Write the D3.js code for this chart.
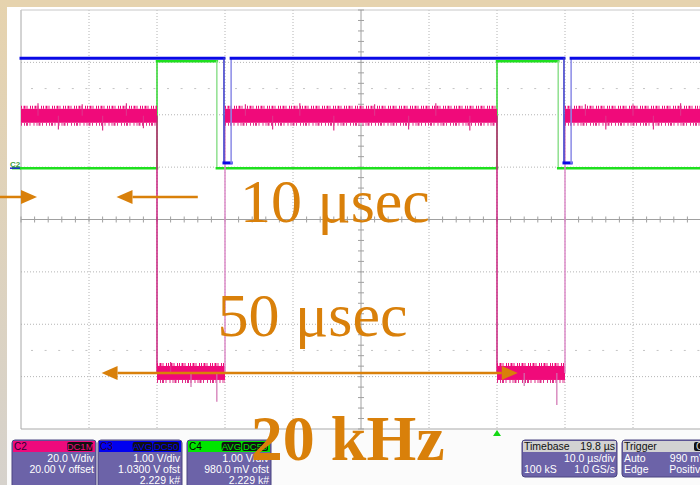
<!DOCTYPE html>
<html><head><meta charset="utf-8">
<script src="https://cdn.jsdelivr.net/npm/d3@7/dist/d3.min.js"></script>
<style>html,body{margin:0;padding:0;background:#fff;overflow:hidden}svg{display:block}</style>
</head><body>
<svg id="c" width="700" height="485"></svg>
<script>
// ---- data (time in µs, level in screen divisions) ----
const timeTicks = [0,10,20,30,40,50,60,70,80,90,100];
const levelTicks = [-4,-3,-2,-1,0,1,2,3,4];
const greenT = [0,20,20,28.8,28.8,70,70,79,79,100];
const greenV = [0.98,0.98,3.02,3.02,0.98,0.98,3.02,3.02,0.98,0.98];
const blueT = [0,29.85,29.85,30.9,30.9,79.85,79.85,80.9,80.9,100];
const blueV = [3.08,3.08,1.08,1.08,3.08,3.08,1.08,1.08,3.08,3.08];
const pinkT = [0,20,20,30,30,70,70,80,80,100];
const pinkV = [1.98,1.98,-2.93,-2.93,1.98,1.98,-2.93,-2.93,1.98,1.98];
const pinkSpikeT = [2.5,5.5,9,12,15.5,18,33,37,41,46,52,57,61,66,83,86,90,93,97,22,25,28.8,74,78.8];
const pinkSpikeV = [2.22,1.72,2.2,1.7,2.22,1.74,2.2,1.72,2.22,1.7,2.2,1.72,2.22,1.7,2.2,1.72,2.2,1.72,2.22,-2.72,-3.2,-3.48,-3.18,-3.54];
const markerLevels = [2.5,-2.5];
const channels = [
  {name:"C2", badges:["DC1M"], rows:["20.0 V/div","20.00 V offset",""]},
  {name:"C3", badges:["AVG","DC50"], rows:["1.00 V/div","1.0300 V ofst","2.229 k#"]},
  {name:"C4", badges:["AVG","DC50"], rows:["1.00 V/div","980.0 mV ofst","2.229 k#"]}
];
const timebase = {head:["Timebase","19.8 µs"], rows:[["","10.0 µs/div"],["100 kS","1.0 GS/s"]]};
const trigger = {head:["Trigger","C4"], rows:[["Auto","990 mV"],["Edge","Positive"]]};
const notes = [
  {text:"10 μsec", t:32.2, v:-0.05, bold:false},
  {text:"50 μsec", t:28.9, v:-2.22, bold:false},
  {text:"20 kHz", t:33.8, v:-4.6, bold:true}
];

// ---- styles ----
const chColors = {C2:"#ee0a7c", C3:"#0000f0", C4:"#00e600"};
const orange = "#d9800a";
const svg = d3.select("#c");
const x = d3.scaleLinear().domain([0,100]).range([21,701]);
const y = d3.scaleLinear().domain([-4,4]).range([429,10]);

// backgrounds
svg.append("rect").attr("width",700).attr("height",485).attr("fill","#ffffff");
svg.append("rect").attr("x",0).attr("y",0).attr("width",700).attr("height",7).attr("fill","#e6d3ae");
const lg = svg.append("defs").append("linearGradient").attr("id","lg").attr("x1",0).attr("x2",0).attr("y1",0).attr("y2",1);
lg.append("stop").attr("offset","0").attr("stop-color","#e6d3ae");
lg.append("stop").attr("offset","1").attr("stop-color","#d6d2cc");
svg.append("rect").attr("x",0).attr("y",0).attr("width",7).attr("height",485).attr("fill","url(#lg)");
svg.append("rect").attr("x",7).attr("y",430).attr("width",693).attr("height",55).attr("fill","#fbfbfb");

// grid
const grid = svg.append("g");
grid.selectAll("line.v").data(timeTicks.filter(t=>t!==50 && t!==0)).join("line")
  .attr("x1",d=>x(d)).attr("x2",d=>x(d)).attr("y1",y(4)).attr("y2",y(-4))
  .attr("stroke","#b4b4b4").attr("stroke-dasharray","1,2");
grid.selectAll("line.h").data(levelTicks.filter(v=>v!==0 && Math.abs(v)!==4)).join("line")
  .attr("x1",x(0)).attr("x2",x(100)).attr("y1",d=>y(d)).attr("y2",d=>y(d))
  .attr("stroke","#b4b4b4").attr("stroke-dasharray","1,2");
grid.selectAll("line.m").data(markerLevels).join("line")
  .attr("x1",x(0)+10).attr("x2",x(100)).attr("y1",d=>y(d)).attr("y2",d=>y(d))
  .attr("stroke","#c4c4c4").attr("stroke-dasharray","2,11.6");
// borders
grid.append("line").attr("x1",x(0)).attr("x2",x(0)).attr("y1",y(4)).attr("y2",y(-4)).attr("stroke","#a8a8a8");
grid.append("line").attr("x1",x(0)).attr("x2",700).attr("y1",y(4)).attr("y2",y(4)).attr("stroke","#c8c8c8");
grid.append("line").attr("x1",x(0)).attr("x2",700).attr("y1",y(-4)).attr("y2",y(-4)).attr("stroke","#a8a8a8");
// center axes with minor ticks
grid.append("line").attr("x1",x(0)).attr("x2",x(100)).attr("y1",y(0)).attr("y2",y(0)).attr("stroke","#a0a0a0");
grid.append("line").attr("x1",x(50)).attr("x2",x(50)).attr("y1",y(4)).attr("y2",y(-4)).attr("stroke","#a0a0a0");
const minorT = d3.range(0,100.01,2);
grid.selectAll("line.tx").data(minorT).join("line")
  .attr("x1",d=>x(d)).attr("x2",d=>x(d)).attr("y1",y(0)-3).attr("y2",y(0)+3).attr("stroke","#a0a0a0");
const minorV = d3.range(-4,4.01,0.2);
grid.selectAll("line.ty").data(minorV).join("line")
  .attr("x1",x(50)-3).attr("x2",x(50)+3).attr("y1",d=>y(d)).attr("y2",d=>y(d)).attr("stroke","#a0a0a0");

// trace helper
function drawStep(T,V,hColor,hW,vColorFall,vColorRise,vW){
  const g = svg.append("g");
  for(let i=0;i<T.length-1;i++){
    const horiz = V[i]===V[i+1];
    g.append("line").attr("x1",x(T[i])).attr("x2",x(T[i+1])).attr("y1",y(V[i])).attr("y2",y(V[i+1]))
      .attr("stroke", horiz ? hColor : (V[i+1]<V[i] ? vColorFall : vColorRise))
      .attr("stroke-width", horiz ? hW : vW).attr("stroke-linecap","square");
  }
  return g;
}

// green C4
drawStep(greenT,greenV,"#1ee01e",2.5,"#8fe08f","#2ed62e",1.5);
svg.append("line").attr("x1",12).attr("x2",x(0)).attr("y1",y(greenV[0])).attr("y2",y(greenV[0])).attr("stroke","#1ee01e").attr("stroke-width",2.5);

// pink C2
const pg = svg.append("g");
for(let i=0;i<pinkT.length-1;i++){
  if(pinkV[i]===pinkV[i+1]){
    const x1=x(pinkT[i]), x2=x(pinkT[i+1]), yy=y(pinkV[i]);
    pg.append("rect").attr("x",x1).attr("y",yy-7).attr("width",x2-x1).attr("height",14).attr("fill","#f00a7a");
    pg.append("line").attr("x1",x1).attr("x2",x2).attr("y1",yy-8.5).attr("y2",yy-8.5)
      .attr("stroke","#f00a7a").attr("stroke-width",3).attr("stroke-dasharray","1,1.5,2,1,1,2.5,1,1");
    pg.append("line").attr("x1",x1).attr("x2",x2).attr("y1",yy+8.5).attr("y2",yy+8.5)
      .attr("stroke","#e0308a").attr("stroke-width",3).attr("stroke-dasharray","1,2,1,1,2,1.5,1,3");
  } else {
    const fall = pinkV[i+1]<pinkV[i];
    pg.append("line").attr("x1",x(pinkT[i])).attr("x2",x(pinkT[i+1])).attr("y1",y(pinkV[i])).attr("y2",y(pinkV[i+1]))
      .attr("stroke", fall ? "#c8207e" : "#dd8cc8").attr("stroke-width",1.5);
  }
}
pg.selectAll("line.sp").data(pinkSpikeT).join("line")
  .attr("x1",d=>x(d)).attr("x2",d=>x(d))
  .attr("y1",(d,i)=>y(pinkSpikeV[i]))
  .attr("y2",(d,i)=>y(pinkSpikeV[i] > 0 ? 1.98 : -2.93))
  .attr("stroke",(d,i)=> pinkSpikeV[i] < -3 ? "#d070b0" : "#e0308a").attr("stroke-width",1.2);

// blue C3
drawStep(blueT,blueV,"#0a0ae6",3,"#3535c8","#8a8ae6",1.5);

// left tags
svg.append("text").attr("x",10).attr("y",y(0.98)-1).attr("font-family","Liberation Sans, Arial").attr("font-size",8).attr("font-weight","bold").attr("fill","#3c9c3c").text("C2");
svg.append("line").attr("x1",10).attr("x2",20).attr("y1",y(0.98)).attr("y2",y(0.98)).attr("stroke","#2020d0").attr("stroke-width",1.5);

// trigger marker
svg.append("path").attr("d",`M${x(70)-4},${y(-4)+7}L${x(70)},${y(-4)+1}L${x(70)+4},${y(-4)+7}Z`).attr("fill","#14d814");

// panels
const font = "Liberation Sans, Arial, sans-serif";
function panelBox(px,pw,ph,headColor){
  const g = svg.append("g");
  g.append("rect").attr("x",px).attr("y",440).attr("width",pw).attr("height",ph).attr("rx",3)
    .attr("fill","#6c63a8").attr("stroke","#4a4580").attr("stroke-width",1);
  g.append("rect").attr("x",px+1).attr("y",441).attr("width",pw-2).attr("height",11).attr("fill",headColor);
  return g;
}
const chX = [12,98,187];
channels.forEach((c,i)=>{
  const px = chX[i], pw = 84;
  const g = panelBox(px,pw,60,chColors[c.name]);
  g.append("text").attr("x",px+2).attr("y",450).attr("font-family",font).attr("font-size",10)
    .attr("fill", c.name==="C4" ? "#000" : "#2a0030").text(c.name);
  let bx = px+pw-2;
  c.badges.slice().reverse().forEach(b=>{
    const w = b.length*6.2+2;
    bx -= w;
    g.append("rect").attr("x",bx).attr("y",442).attr("width",w-1).attr("height",9).attr("rx",2).attr("fill","#111");
    g.append("text").attr("x",bx+(w-1)/2).attr("y",450).attr("text-anchor","middle").attr("font-family",font)
      .attr("font-size",9.5).attr("fill",chColors[c.name]).text(b);
  });
  c.rows.forEach((r,j)=>{
    g.append("text").attr("x",px+pw-2).attr("y",462+11*j).attr("text-anchor","end").attr("font-family",font)
      .attr("font-size",10.5).attr("fill","#fff").text(r);
  });
});
function infoBox(px,pw,obj,badge){
  const g = panelBox(px,pw,37,"#d2d2d2");
  g.append("text").attr("x",px+2).attr("y",450).attr("font-family",font).attr("font-size",10.5).attr("fill","#111").text(obj.head[0]);
  if(badge){
    g.append("rect").attr("x",px+pw-14).attr("y",442).attr("width",14).attr("height",9).attr("rx",2).attr("fill","#111");
    g.append("text").attr("x",px+pw-12).attr("y",450).attr("font-family",font).attr("font-size",10).attr("fill","#ddd").text(obj.head[1]);
  } else {
    g.append("text").attr("x",px+pw-2).attr("y",450).attr("text-anchor","end").attr("font-family",font).attr("font-size",10.5).attr("fill","#111").text(obj.head[1]);
  }
  obj.rows.forEach((r,j)=>{
    g.append("text").attr("x",px+2).attr("y",462+11*j).attr("font-family",font).attr("font-size",10.5).attr("fill","#fff").text(r[0]);
    g.append("text").attr("x",px+pw-2).attr("y",462+11*j).attr("text-anchor","end").attr("font-family",font).attr("font-size",10.5).attr("fill","#fff").text(r[1]);
  });
}
infoBox(522,95,timebase,false);
infoBox(622,86,trigger,true);

// orange annotations
const ann = svg.append("g");
function arrowHead(tipX,yy,dir){
  ann.append("path").attr("d",`M${tipX},${yy}L${tipX-dir*16},${yy-7}L${tipX-dir*16},${yy+7}Z`).attr("fill",orange);
}
const yA = y(0.43), yB = y(-2.93);
ann.append("line").attr("x1",0).attr("x2",x(0)+2).attr("y1",yA).attr("y2",yA).attr("stroke",orange).attr("stroke-width",2.5);
arrowHead(x(0)+16,yA,1);
ann.append("line").attr("x1",x(16.4)).attr("x2",x(26)).attr("y1",yA).attr("y2",yA).attr("stroke",orange).attr("stroke-width",2.5);
arrowHead(x(16.4)-16,yA,-1);
ann.append("line").attr("x1",x(14.2)).attr("x2",x(70.7)).attr("y1",yB).attr("y2",yB).attr("stroke",orange).attr("stroke-width",2.5);
arrowHead(x(14.2)-16,yB,-1);
arrowHead(x(70.7)+16,yB,1);
notes.forEach(n=>{
  ann.append("text").attr("x",x(n.t)).attr("y",y(n.v)).attr("font-family","Liberation Serif, Times New Roman, serif")
    .attr("font-size",n.bold?64:62).attr("font-weight",n.bold?"bold":"normal").attr("fill",orange).text(n.text);
});
</script>
</body></html>
